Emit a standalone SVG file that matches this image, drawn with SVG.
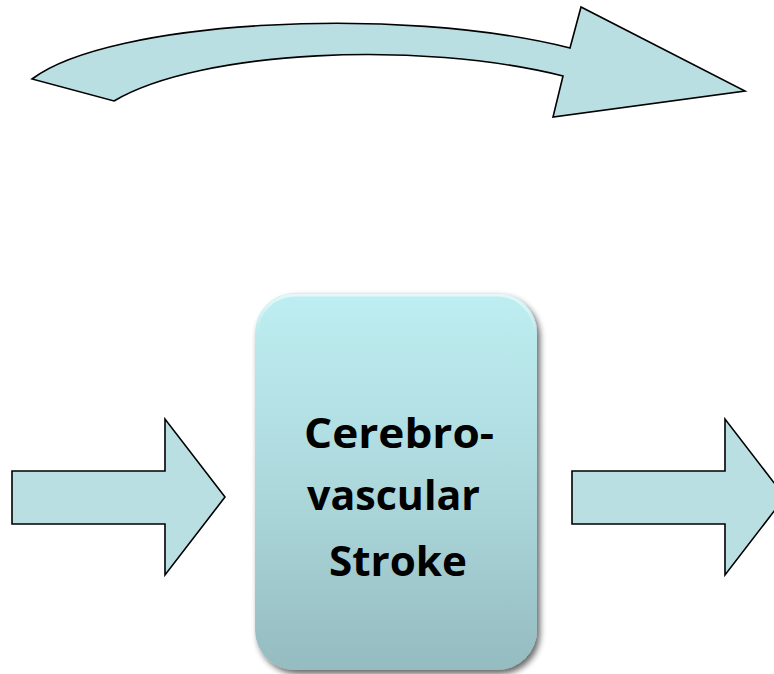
<svg xmlns="http://www.w3.org/2000/svg" width="774" height="674" viewBox="0 0 774 674">
  <defs>
    <linearGradient id="boxGrad" x1="0" y1="0" x2="0" y2="1">
      <stop offset="0" stop-color="#BEEEF1"/>
      <stop offset="0.5" stop-color="#ADD9DD"/>
      <stop offset="1" stop-color="#95BCC0"/>
    </linearGradient>
    <linearGradient id="hiGrad" x1="0" y1="0" x2="0" y2="1">
      <stop offset="0" stop-color="#ffffff" stop-opacity="0.6"/>
      <stop offset="1" stop-color="#ffffff" stop-opacity="0"/>
    </linearGradient>
    <filter id="shadow" x="-10%" y="-10%" width="125%" height="125%">
      <feGaussianBlur in="SourceAlpha" stdDeviation="3"/>
      <feOffset dx="3" dy="4" result="b"/>
      <feComponentTransfer><feFuncA type="linear" slope="0.6"/></feComponentTransfer>
      <feMerge><feMergeNode/><feMergeNode in="SourceGraphic"/></feMerge>
    </filter>
    <style>
      .arrow { fill: #B9DFE2; stroke: #000000; stroke-width: 1.6; stroke-linejoin: miter; }
      .label { font-family: "Open Sans", "Liberation Sans", Arial, sans-serif; font-weight: bold; font-size: 42px; fill: #000000; }
    </style>
  </defs>

  <g id="connectors">
    <path id="curved-arrow" class="arrow" d="M32,79 C110,20 400,5 570,48 L581,7 L745,91 L553,117 L563,76 C420,40 200,50 114,101 Z"/>
    <path id="left-arrow" class="arrow" d="M12,471 L165,471 L165,419 L225,497 L165,575 L165,524 L12,524 Z"/>
    <path id="right-arrow" class="arrow" d="M572,471 L725,471 L725,419 L785,497 L725,575 L725,524 L572,524 Z"/>
  </g>

  <g id="node-stroke">
    <rect x="255" y="293" width="282" height="377" rx="40" ry="40" fill="url(#boxGrad)" filter="url(#shadow)"/>
    <path d="M257,333 A38,38 0 0 1 295,295 L497,295 A38,38 0 0 1 535,333" fill="none" stroke="url(#hiGrad)" stroke-width="3"/>
    <text class="label" x="304" y="448" textLength="190" lengthAdjust="spacingAndGlyphs">Cerebro-</text>
    <text class="label" x="307" y="510" textLength="173" lengthAdjust="spacingAndGlyphs">vascular</text>
    <text class="label" x="329" y="576" textLength="138" lengthAdjust="spacingAndGlyphs">Stroke</text>
  </g>
</svg>
